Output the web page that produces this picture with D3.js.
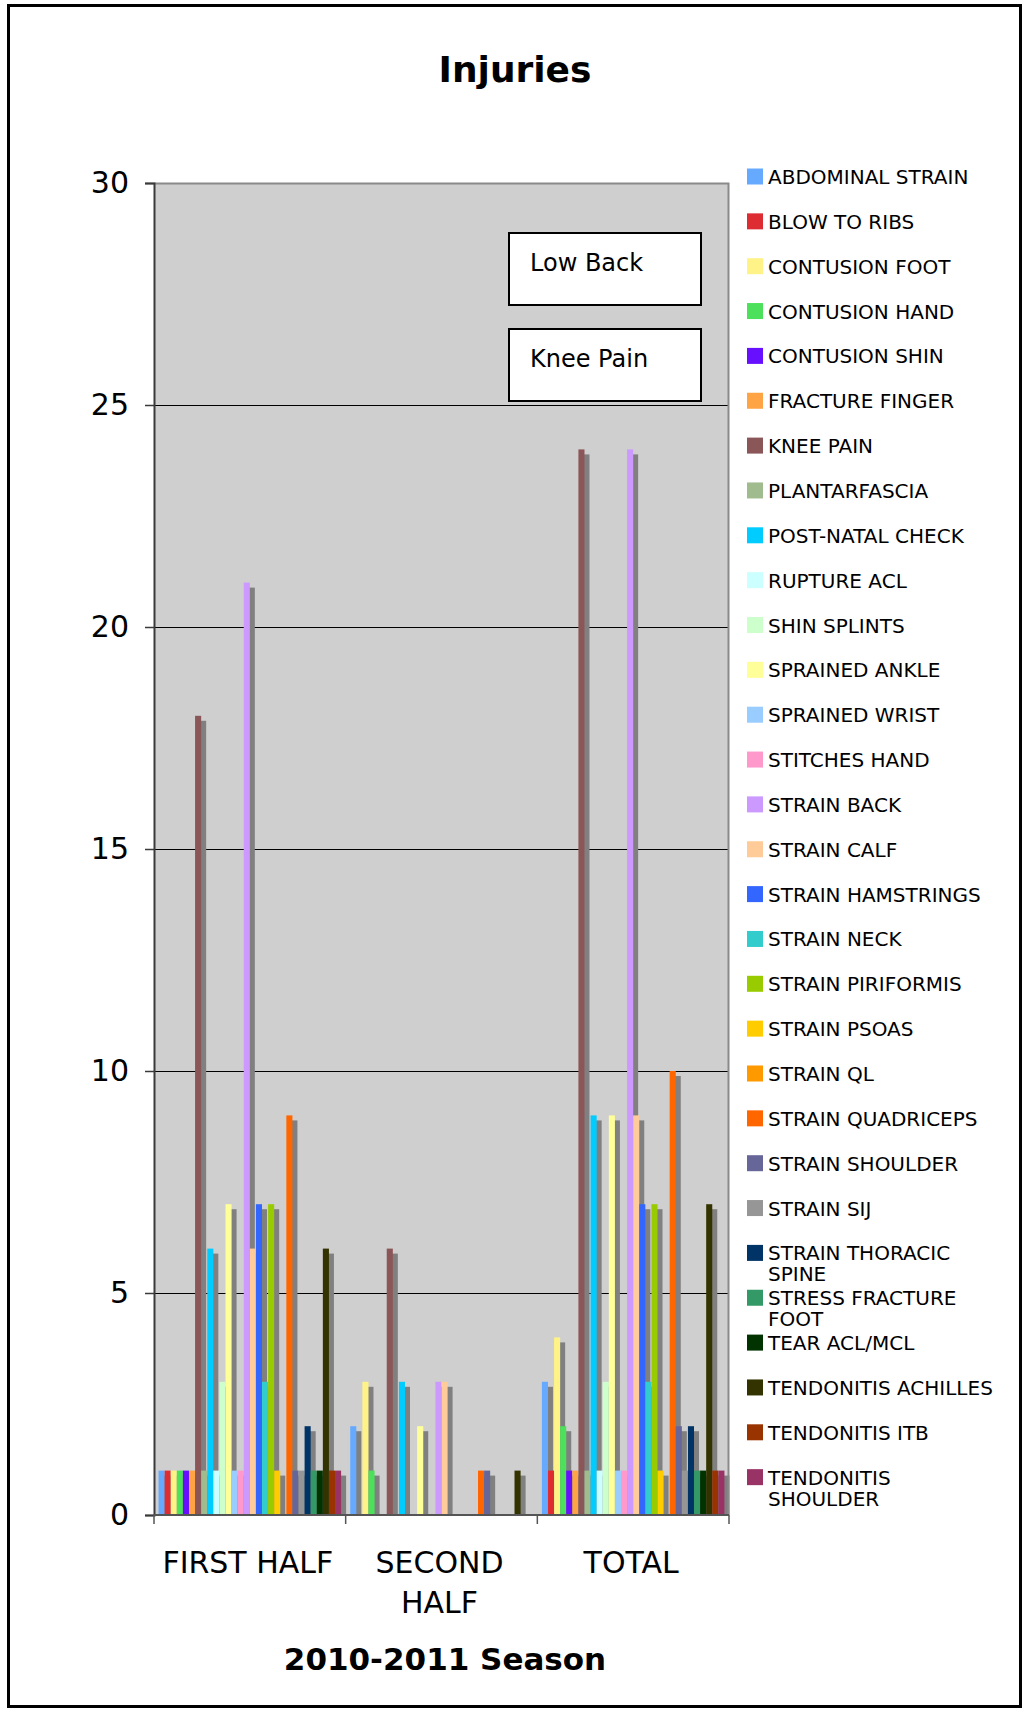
<!DOCTYPE html>
<html>
<head>
<meta charset="utf-8">
<title>Injuries</title>
<script src="https://cdn.jsdelivr.net/npm/d3@7"></script>
<style>
  html, body { margin: 0; padding: 0; background: #fff; }
  svg { display: block; }
  text { font-family: "DejaVu Sans", Verdana, sans-serif; fill: #000; }
</style>
</head>
<body>
<svg id="chart" width="1024" height="1711"></svg>
<script>
// Categories along the x axis
const categories = ["FIRST HALF", "SECOND HALF", "TOTAL"];

// Injury types (one bar series each)
const injuryTypes = [
  "ABDOMINAL STRAIN", "BLOW TO RIBS", "CONTUSION FOOT", "CONTUSION HAND",
  "CONTUSION SHIN", "FRACTURE FINGER", "KNEE PAIN", "PLANTARFASCIA",
  "POST-NATAL CHECK", "RUPTURE ACL", "SHIN SPLINTS", "SPRAINED ANKLE",
  "SPRAINED WRIST", "STITCHES HAND", "STRAIN BACK", "STRAIN CALF",
  "STRAIN HAMSTRINGS", "STRAIN NECK", "STRAIN PIRIFORMIS", "STRAIN PSOAS",
  "STRAIN QL", "STRAIN QUADRICEPS", "STRAIN SHOULDER", "STRAIN SIJ",
  "STRAIN THORACIC SPINE", "STRESS FRACTURE FOOT", "TEAR ACL/MCL",
  "TENDONITIS ACHILLES", "TENDONITIS ITB", "TENDONITIS SHOULDER"
];

// Counts per injury type, in the same order as injuryTypes
const firstHalf  = [1, 1, 1, 1, 1, 1, 18, 1, 6, 1, 3, 7, 1, 1, 21, 6, 7, 3, 7, 1, 0, 9, 1, 1, 2, 1, 1, 6, 1, 1];
const secondHalf = [2, 0, 3, 1, 0, 0, 6, 0, 3, 0, 0, 2, 0, 0, 3, 3, 0, 0, 0, 0, 0, 1, 1, 0, 0, 0, 0, 1, 0, 0];
const total      = [3, 1, 4, 2, 1, 1, 24, 1, 9, 1, 3, 9, 1, 1, 24, 9, 7, 3, 7, 1, 0, 10, 2, 1, 2, 1, 1, 7, 1, 1];

// Series fill colours
const seriesColors = [
  "#66aaff", "#dd2d33", "#fff387", "#4de05a", "#6610ff", "#ffa444",
  "#8b5658", "#a0bb8e", "#00ccff", "#ccffff", "#ccffcc", "#ffff99",
  "#99ccff", "#ff99cc", "#cc99ff", "#ffcc99", "#3366ff", "#33cccc",
  "#99cc00", "#ffcc00", "#ff9900", "#ff6600", "#666699", "#969696",
  "#003366", "#339966", "#003300", "#333300", "#993300", "#993366"
];

// Y axis tick values
const yTicks = [0, 5, 10, 15, 20, 25, 30];

// Text boxes placed on the plot
const notes = ["Low Back", "Knee Pain"];

const valuesByCategory = [firstHalf, secondHalf, total];

const svg = d3.select("#chart");
const plot = { left: 154, right: 729, top: 183, bottom: 1515 };

// Outer frame
svg.append("rect")
  .attr("x", 8.5).attr("y", 5.5)
  .attr("width", 1012).attr("height", 1701)
  .attr("fill", "#fff")
  .attr("stroke", "#000").attr("stroke-width", 3);

// Title
svg.append("text")
  .attr("x", 515).attr("y", 82)
  .attr("text-anchor", "middle")
  .attr("font-weight", "bold")
  .attr("font-size", 36)
  .text("Injuries");

// Scales
const x0 = d3.scaleBand()
  .domain(categories)
  .range([plot.left, plot.right])
  .paddingInner(0).paddingOuter(0);

const x1 = d3.scaleBand()
  .domain(injuryTypes)
  .range([0, x0.bandwidth()])
  .paddingInner(0)
  .paddingOuter(0.75);

const y = d3.scaleLinear()
  .domain([0, 30])
  .range([plot.bottom, plot.top]);

// Plot background
svg.append("rect")
  .attr("x", plot.left).attr("y", plot.top)
  .attr("width", plot.right - plot.left)
  .attr("height", plot.bottom - plot.top)
  .attr("fill", "#cfcfcf");

// Horizontal gridlines
svg.append("g")
  .selectAll("line")
  .data(yTicks.filter(t => t > 0 && t < 30))
  .join("line")
  .attr("x1", plot.left).attr("x2", plot.right)
  .attr("y1", d => Math.round(y(d)) + 0.5)
  .attr("y2", d => Math.round(y(d)) + 0.5)
  .attr("stroke", "#000").attr("stroke-width", 1.2);

// Bars with a grey drop shadow, series by series
const shadowDx = 5, shadowDy = 5;
const barData = (si) => categories.map((c, ci) => ({
  cat: c, series: injuryTypes[si], value: valuesByCategory[ci][si]
})).filter(d => d.value > 0);

const seriesG = svg.append("g")
  .selectAll("g")
  .data(injuryTypes.map((name, si) => ({ name, si })))
  .join("g");

seriesG.each(function (s) {
  const g = d3.select(this);
  const data = barData(s.si);
  g.selectAll("rect.shadow")
    .data(data)
    .join("rect")
    .attr("class", "shadow")
    .attr("x", d => x0(d.cat) + x1(d.series) + shadowDx)
    .attr("y", d => y(d.value) + shadowDy)
    .attr("width", x1.bandwidth())
    .attr("height", d => Math.max(0, y(0) - y(d.value) - shadowDy))
    .attr("fill", "#808080");
  g.selectAll("rect.bar")
    .data(data)
    .join("rect")
    .attr("class", "bar")
    .attr("x", d => x0(d.cat) + x1(d.series))
    .attr("y", d => y(d.value))
    .attr("width", x1.bandwidth())
    .attr("height", d => y(0) - y(d.value))
    .attr("fill", seriesColors[s.si]);
});

// Plot border (top and right)
svg.append("path")
  .attr("d", `M${plot.left},${plot.top + 0.5}H${plot.right - 0.5}V${plot.bottom}`)
  .attr("fill", "none")
  .attr("stroke", "#8a8a8a").attr("stroke-width", 2);

// Y axis
const yAxis = svg.append("g")
  .attr("transform", `translate(${plot.left},0)`)
  .call(d3.axisLeft(y).tickValues(yTicks).tickSize(9).tickPadding(16).tickFormat(d3.format("d")));
yAxis.select(".domain").attr("stroke", "#3a3a3a").attr("stroke-width", 2);
yAxis.selectAll(".tick line").attr("stroke", "#3a3a3a").attr("stroke-width", 1.5);
yAxis.selectAll(".tick text")
  .attr("font-size", 30)
  .attr("font-family", "DejaVu Sans, Verdana, sans-serif")
  .attr("fill", "#000");

// X axis baseline and category boundary ticks
const xAxisG = svg.append("g");
xAxisG.append("line")
  .attr("x1", plot.left).attr("x2", plot.right)
  .attr("y1", plot.bottom).attr("y2", plot.bottom)
  .attr("stroke", "#555").attr("stroke-width", 2);
const boundaries = categories.map(c => x0(c)).concat([x0.range()[1]]);
xAxisG.selectAll("line.tick")
  .data(boundaries)
  .join("line")
  .attr("class", "tick")
  .attr("x1", d => d).attr("x2", d => d)
  .attr("y1", plot.bottom).attr("y2", plot.bottom + 9)
  .attr("stroke", "#555").attr("stroke-width", 1.5);

// Word wrap helper for text elements
function wrapText(textSel, maxWidth, lineHeight) {
  textSel.each(function () {
    const t = d3.select(this);
    const words = t.text().split(/\s+/);
    const xAttr = t.attr("x");
    t.text(null);
    let line = [];
    let tspan = t.append("tspan").attr("x", xAttr).attr("dy", 0);
    words.forEach(w => {
      line.push(w);
      tspan.text(line.join(" "));
      if (tspan.node().getComputedTextLength() > maxWidth && line.length > 1) {
        line.pop();
        tspan.text(line.join(" "));
        line = [w];
        tspan = t.append("tspan").attr("x", xAttr).attr("dy", lineHeight).text(w);
      }
    });
  });
}

// Category labels
svg.append("g")
  .selectAll("text")
  .data(categories)
  .join("text")
  .attr("x", d => x0(d) + x0.bandwidth() / 2 - 2)
  .attr("y", 1573)
  .attr("text-anchor", "middle")
  .attr("font-size", 30)
  .text(d => d)
  .call(wrapText, x0.bandwidth() - 6, 40);

// X axis title
svg.append("text")
  .attr("x", 445).attr("y", 1670)
  .attr("text-anchor", "middle")
  .attr("font-weight", "bold")
  .attr("font-size", 31)
  .text("2010-2011 Season");

// Note boxes on the plot
const noteG = svg.append("g")
  .selectAll("g")
  .data(notes)
  .join("g")
  .attr("transform", (d, i) => `translate(509,${233 + i * 96})`);
noteG.append("rect")
  .attr("width", 192).attr("height", 72)
  .attr("fill", "#fff")
  .attr("stroke", "#000").attr("stroke-width", 2);
noteG.append("text")
  .attr("x", 21).attr("y", 38)
  .attr("font-family", "Lato, 'Open Sans', sans-serif")
  .attr("font-size", 24)
  .text(d => d);

// Legend
const legendTop = 176.5, legendStep = 44.85;
const legend = svg.append("g")
  .selectAll("g")
  .data(injuryTypes)
  .join("g")
  .attr("transform", (d, i) => `translate(747,${legendTop + i * legendStep})`);
legend.append("rect")
  .attr("x", 0).attr("y", -8)
  .attr("width", 16).attr("height", 16)
  .attr("fill", (d, i) => seriesColors[i]);
legend.append("text")
  .attr("x", 21).attr("y", 7.5)
  .attr("font-size", 20)
  .text(d => d)
  .call(wrapText, 232, 21);
</script>
</body>
</html>
